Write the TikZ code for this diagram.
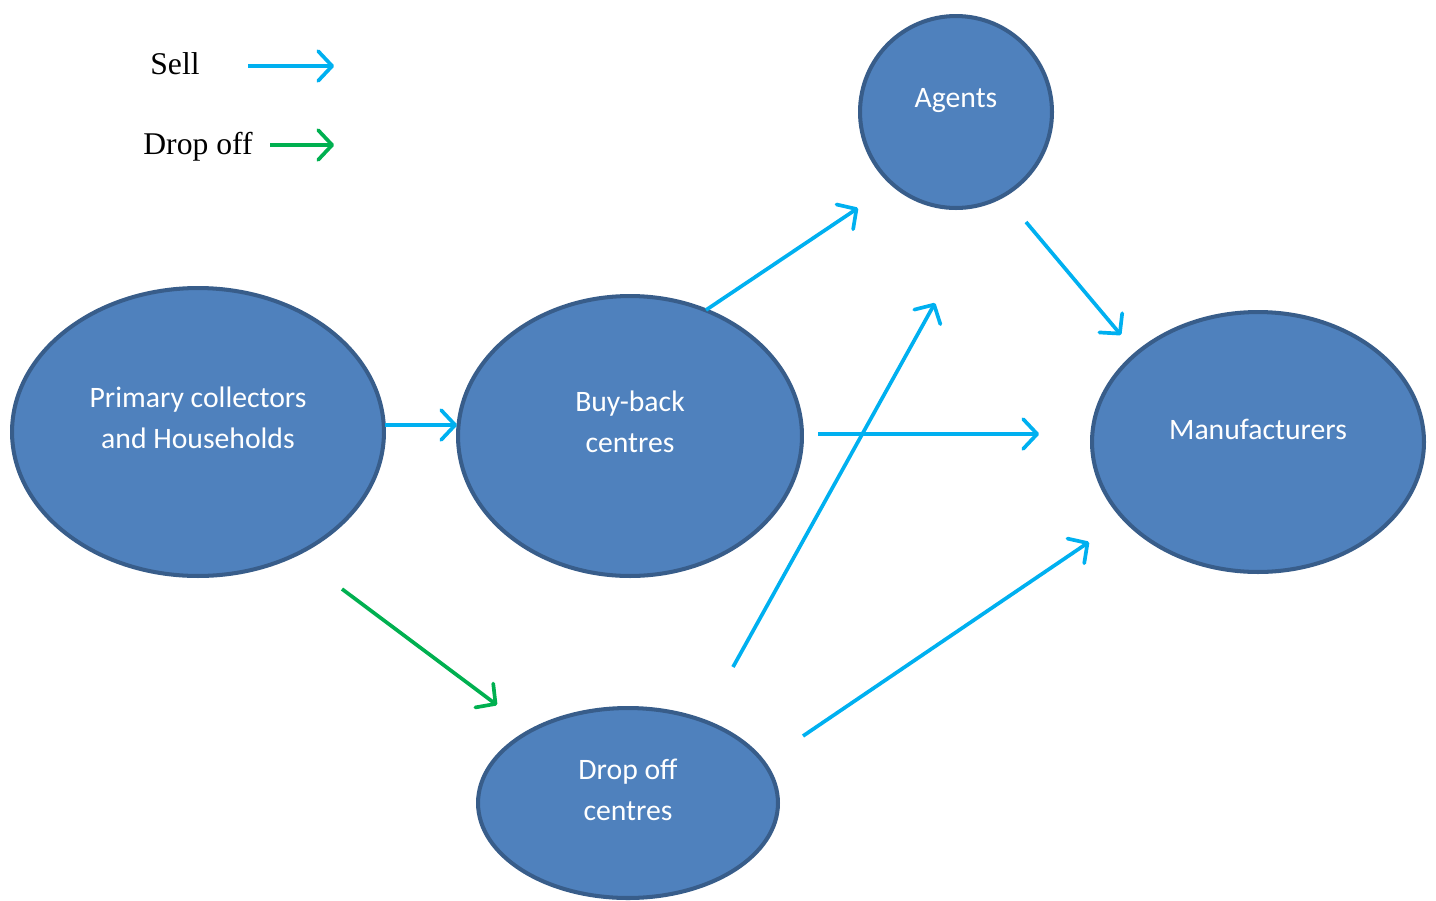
\documentclass[tikz,border=0pt]{standalone}
\usepackage{fontspec}
\setmainfont{Liberation Serif}
\newfontfamily\calib{Carlito}
\usetikzlibrary{shapes.geometric,arrows.meta}
\definecolor{nodefill}{HTML}{4F81BD}
\definecolor{nodeline}{HTML}{385D8A}
\definecolor{sellblue}{HTML}{00B0F0}
\definecolor{dropgreen}{HTML}{00B050}
\tikzset{
  blob/.style={ellipse, draw=nodeline, fill=nodefill, line width=2.3pt, inner sep=0pt},
  blobtext/.style={text=white, font=\calib\fontsize{16.9}{23.2}\selectfont, align=center, inner sep=0pt},
  legendtext/.style={font=\fontsize{18}{21}\selectfont, inner sep=0pt},
  flow/.style={line width=2.1pt, -{Straight Barb[length=8pt,width=17pt,line cap=round,line join=round]}},
  sell/.style={flow, sellblue},
  dropoff/.style={flow, dropgreen}
}
\begin{document}
\begin{tikzpicture}[x=0.02cm, y=-0.02cm]
\useasboundingbox (0,0) rectangle (1436,900);

% legend
\node[legendtext] (lsell) at (175,64) {Sell};
\node[legendtext] (ldrop) at (198,147) {Drop off};
\coordinate (lsellA) at (248,66);
\coordinate (lsellB) at (334,66);
\coordinate (ldropA) at (270,145);
\coordinate (ldropB) at (334,145);
\draw[sell] (lsellA) -- (lsellB);
\draw[dropoff] (ldropA) -- (ldropB);

% actors
\node[blob, minimum width=7.44cm, minimum height=5.76cm] (prim) at (198,432) {};
\node[blob, minimum width=6.88cm, minimum height=5.6cm] (buy) at (630,436) {};
\node[blob, minimum width=3.84cm, minimum height=3.84cm] (agent) at (956,112) {};
\node[blob, minimum width=6.64cm, minimum height=5.2cm] (manu) at (1258,442) {};
\node[blob, minimum width=6.0cm, minimum height=3.8cm] (drop) at (628,803) {};

\node[blobtext] (primT) at (198,418) {Primary collectors\\and Households};
\node[blobtext] (buyT) at (630,422) {Buy-back\\centres};
\node[blobtext] (agentT) at (956,101) {Agents};
\node[blobtext] (manuT) at (1258,429) {Manufacturers};
\node[blobtext] (dropT) at (628,790) {Drop off\\centres};

% arrow end points
\coordinate (pbA) at (385,425);
\coordinate (pbB) at (457,425);
\coordinate (baA) at (706,310);
\coordinate (baB) at (858,208);
\coordinate (amA) at (1026,222);
\coordinate (amB) at (1121,335);
\coordinate (bmA) at (818,434);
\coordinate (bmB) at (1039,434);
\coordinate (daA) at (733,667);
\coordinate (daB) at (935,303);
\coordinate (dmA) at (803,736);
\coordinate (dmB) at (1089,542);
\coordinate (pdA) at (342,589);
\coordinate (pdB) at (497,705);

% flows
\draw[sell] (pbA) -- (pbB);
\draw[sell] (baA) -- (baB);
\draw[sell] (amA) -- (amB);
\draw[sell] (bmA) -- (bmB);
\draw[sell] (daA) -- (daB);
\draw[sell] (dmA) -- (dmB);
\draw[dropoff] (pdA) -- (pdB);
\end{tikzpicture}
\end{document}
